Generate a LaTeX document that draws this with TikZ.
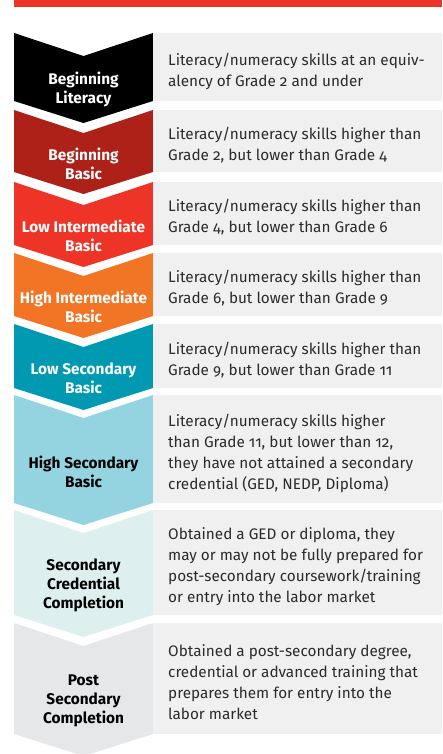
\documentclass[tikz,border=0pt]{standalone}
\usepackage{fontspec}
\setmainfont{Fira Sans}[Numbers=OldStyle]
\usepackage{tikz}
\definecolor{barred}{HTML}{EE3327}
\definecolor{boxgrey}{HTML}{F0F0F0}
\definecolor{bodyink}{HTML}{2B2B2B}
\definecolor{lvlblack}{HTML}{000000}
\definecolor{lvldarkred}{HTML}{AD2118}
\definecolor{lvlred}{HTML}{EE3327}
\definecolor{lvlorange}{HTML}{F27526}
\definecolor{lvlteal}{HTML}{0099B2}
\definecolor{lvllightblue}{HTML}{93D4E0}
\definecolor{lvlpale}{HTML}{DDF0EF}
\definecolor{lvlgrey}{HTML}{E6E7E8}
% one level: name, top, bottom, fill, label colour, label, description
\newcommand{\levelrow}[7]{%
  \fill[#4] (14,#2) -- (83.5,#2+23) -- (153,#2) -- (153,#3)
    -- (83.5,#3+22) -- (14,#3) -- cycle;
  \fill[boxgrey] (153,#2) rectangle (442,#3);
  \node[lvltext,text=#5] (#1-label) at (83.5,{(#2+#3)/2+22.5}) {#6};
  \node[desctext] (#1-desc) at (168,{(#2+#3)/2+4}) {#7};
}

\begin{document}
\begin{tikzpicture}[
      x=1pt, y=-1pt,
      every node/.style={inner sep=0pt},
      lvltext/.style={align=center,font=\bfseries\fontsize{15.4}{19}\selectfont},
      desctext/.style={anchor=west,align=left,text=bodyink,
        font=\fontsize{15.3}{21}\selectfont}
    ]
      \useasboundingbox (0,0) rectangle (442,754);
      \fill[barred] (14,0) rectangle (442,7);
      \levelrow{bl}{33}{101}{lvlblack}{white}{Beginning\\Literacy}
        {Literacy/numeracy skills at an equiv-\\alency of Grade 2 and under}
      \levelrow{bb}{110}{172}{lvldarkred}{white}{Beginning\\Basic}
        {Literacy/numeracy skills higher than\\Grade 2, but lower than Grade 4}
      \levelrow{lib}{182}{245}{lvlred}{white}{Low Intermediate\\Basic}
        {Literacy/numeracy skills higher than\\Grade 4, but lower than Grade 6}
      \levelrow{hib}{253}{316}{lvlorange}{white}{High Intermediate\\Basic}
        {Literacy/numeracy skills higher than\\Grade 6, but lower than Grade 9}
      \levelrow{lsb}{324}{388}{lvlteal}{white}{Low Secondary\\Basic}
        {Literacy/numeracy skills higher than\\Grade 9, but lower than Grade 11}
      \levelrow{hsb}{395}{503}{lvllightblue}{black}{High Secondary\\Basic}
        {Literacy/numeracy skills higher\\than Grade 11, but lower than 12,\\they have not attained a secondary\\credential (GED, NEDP, Diploma)}
      \levelrow{scc}{510}{615}{lvlpale}{black}{Secondary\\Credential\\Completion}
        {Obtained a GED or diploma, they\\may or may not be fully prepared for\\post-secondary coursework/training\\or entry into the labor market}
      \levelrow{psc}{623}{734}{lvlgrey}{black}{Post\\Secondary\\Completion}
        {Obtained a post-secondary degree,\\credential or advanced training that\\prepares them for entry into the\\labor market}
    \end{tikzpicture}
\end{document}
